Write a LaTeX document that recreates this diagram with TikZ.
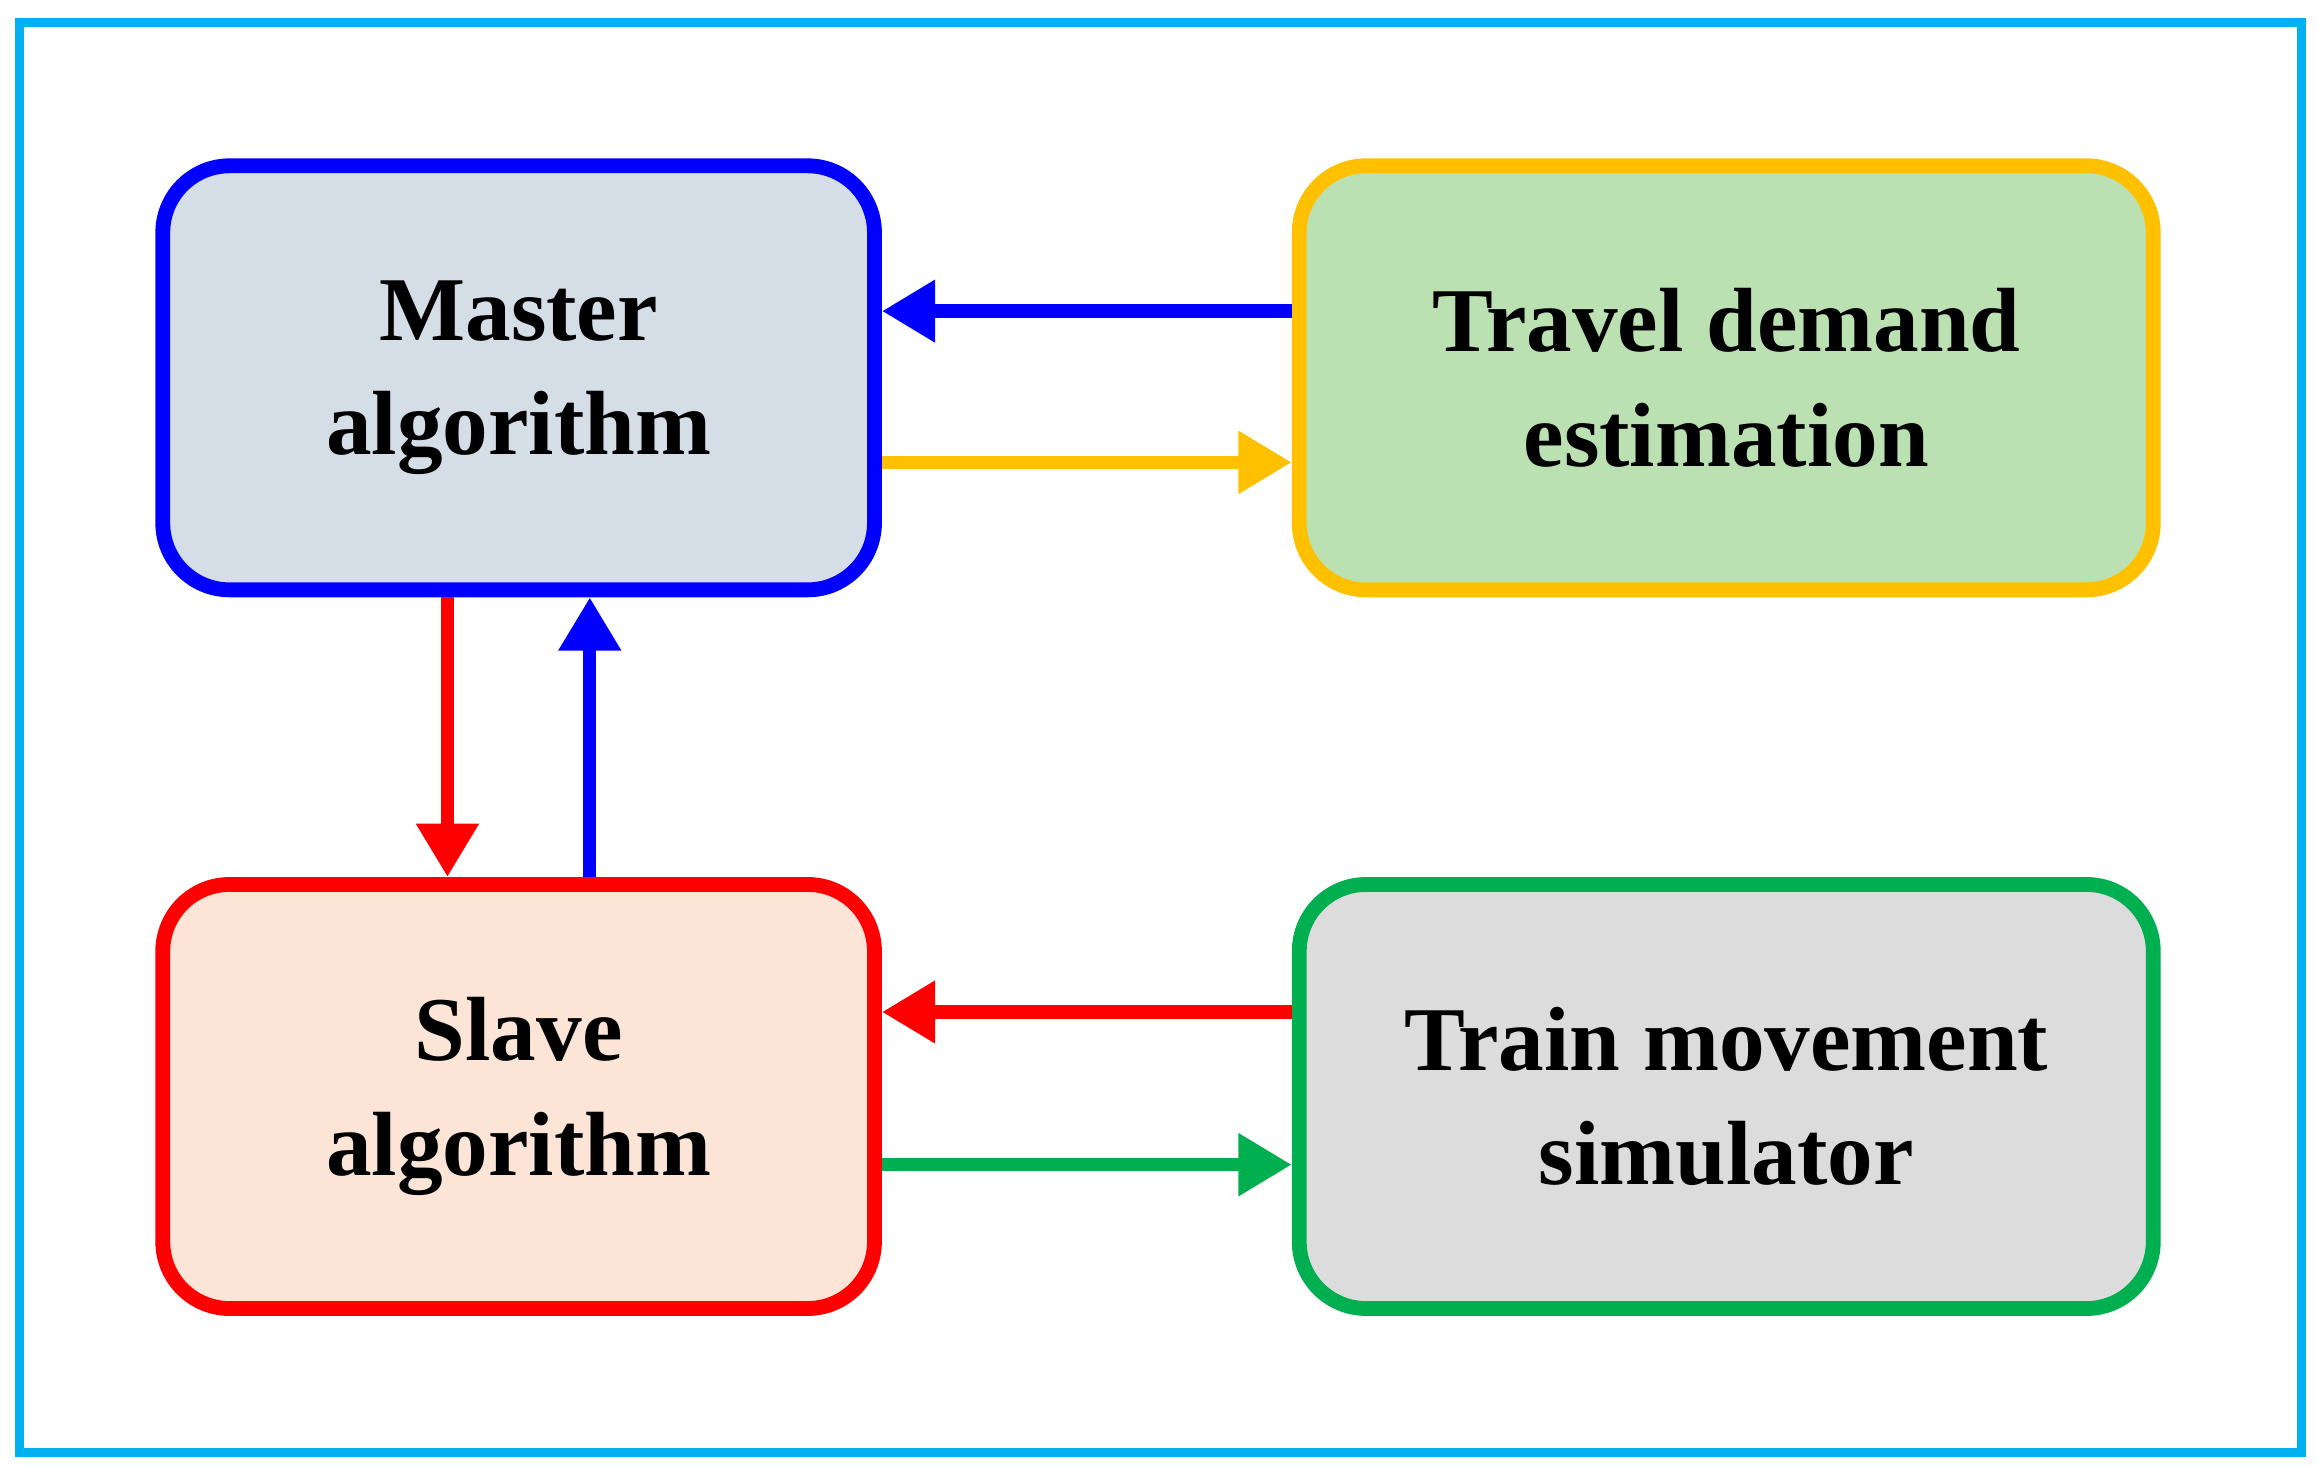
\documentclass[tikz,border=0pt]{standalone}
\usepackage{fontspec}
\setmainfont{Liberation Serif}
\usetikzlibrary{arrows.meta}
\definecolor{cblue}{HTML}{0000FF}
\definecolor{cyel}{HTML}{FFC000}
\definecolor{cred}{HTML}{FF0000}
\definecolor{cgreen}{HTML}{00B050}
\definecolor{ccyan}{HTML}{00B0F0}
\begin{document}
\begin{tikzpicture}[x=0.01cm,y=-0.01cm,
 box/.style={draw,line width=0.1cm,rounded corners=0.45cm,minimum width=4.8cm,minimum height=2.86cm,
   align=center,font=\fontsize{17.5}{22}\selectfont\bfseries,inner sep=0pt},
 arr/.style={line width=0.09cm,-{Triangle[length=0.36cm,width=0.4cm]}}]
\useasboundingbox (0,0) rectangle (1563,989);
\draw[ccyan,line width=0.06cm] (13,15) rectangle (1553,980);
\node[box,draw=cblue,fill={rgb,255:red,213;green,222;blue,230}] (M) at (350,255) {Master\\algorithm};
\node[box,draw=cyel,fill={rgb,255:red,187;green,225;blue,179},minimum width=5.76cm] (T) at (1165,255) {Travel demand\\estimation};
\node[box,draw=cred,fill={rgb,255:red,252;green,229;blue,214}] (S) at (350,740) {Slave\\algorithm};
\node[box,draw=cgreen,fill={rgb,255:red,220;green,220;blue,220},minimum width=5.76cm] (R) at (1165,740) {Train movement\\simulator};
\draw[arr,cblue] ([yshift=0.45cm]T.west) -- ([yshift=0.45cm]M.east);
\draw[arr,cyel] ([yshift=-0.57cm]M.east) -- ([yshift=-0.57cm]T.west);
\draw[arr,cred] ([xshift=-0.48cm]M.south) -- ([xshift=-0.48cm]S.north);
\draw[arr,cblue] ([xshift=0.48cm]S.north) -- ([xshift=0.48cm]M.south);
\draw[arr,cred] ([yshift=0.57cm]R.west) -- ([yshift=0.57cm]S.east);
\draw[arr,cgreen] ([yshift=-0.46cm]S.east) -- ([yshift=-0.46cm]R.west);
\end{tikzpicture}
\end{document}
